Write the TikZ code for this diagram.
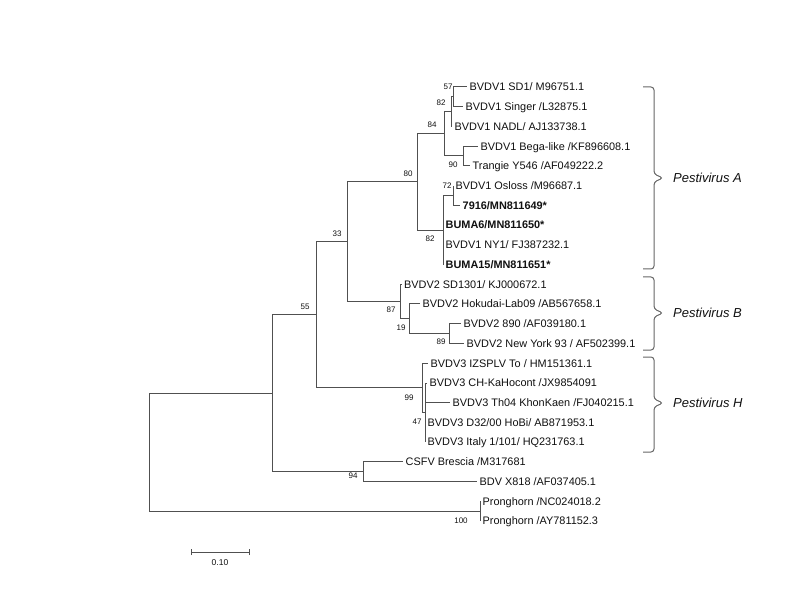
\documentclass[tikz,border=0pt]{standalone}
\usepackage{fontspec}
\setmainfont{Liberation Sans}
\definecolor{branchgray}{HTML}{505050}
\definecolor{textdark}{HTML}{111111}
\definecolor{bracegray}{HTML}{666666}
\begin{document}
\begin{tikzpicture}[x=1pt,y=-1pt,
  br/.style={draw=branchgray, line width=1pt},
  leaf/.style={anchor=west, inner xsep=2.5pt, inner ysep=0pt, font=\fontsize{10.9}{12}\selectfont, text height=7.7pt, text depth=0pt, text=textdark},
  bleaf/.style={leaf, font=\bfseries\fontsize{10.9}{12}\selectfont},
  bs/.style={inner sep=0pt, font=\fontsize{8}{9}\selectfont, text=textdark},
  cladebrace/.style={draw=bracegray, line width=1pt, rounded corners=3pt},
  cladelabel/.style={anchor=west, inner sep=0pt, font=\itshape\fontsize{13}{15}\selectfont, text=textdark}
]
\useasboundingbox (0,0) rectangle (793,596);
\fill[white] (0,0) rectangle (793,596);

% internal nodes
\coordinate (n57) at (453,96.9);
\coordinate (n82a) at (451,111.7);
\coordinate (n90) at (463,156.0);
\coordinate (n84) at (444,133.9);
\coordinate (n72) at (453,195.5);
\coordinate (n82b) at (443,230.1);
\coordinate (n80) at (417,182.0);
\coordinate (n89) at (449,333.6);
\coordinate (n19) at (409,318.8);
\coordinate (n87) at (400.7,301.6);
\coordinate (n33) at (347,241.8);
\coordinate (n47) at (425,412.6);
\coordinate (n99) at (422,387.9);
\coordinate (n55) at (316,314.8);
\coordinate (n94) at (363,471.7);
\coordinate (n2) at (272,393.3);
\coordinate (n100) at (480,511.2);
\coordinate (root) at (149,452.2);

% leaves
\node[leaf] (l0) at (467,87.0) {BVDV1 SD1/ M96751.1};
\node[leaf] (l1) at (463,106.7) {BVDV1 Singer /L32875.1};
\node[leaf] (l2) at (452,126.5) {BVDV1 NADL/ AJ133738.1};
\node[leaf] (l3) at (478,146.2) {BVDV1 Bega-like /KF896608.1};
\node[leaf] (l4) at (470,165.9) {Trangie Y546 /AF049222.2};
\node[leaf] (l5) at (453,185.7) {BVDV1 Osloss /M96687.1};
\node[bleaf] (l6) at (460,205.4) {7916/MN811649*};
\node[bleaf] (l7) at (443,225.1) {BUMA6/MN811650*};
\node[leaf] (l8) at (443,244.8) {BVDV1 NY1/ FJ387232.1};
\node[bleaf] (l9) at (443,264.6) {BUMA15/MN811651*};
\node[leaf] (l10) at (401.5,284.3) {BVDV2 SD1301/ KJ000672.1};
\node[leaf] (l11) at (420,304.0) {BVDV2 Hokudai-Lab09 /AB567658.1};
\node[leaf] (l12) at (461,323.8) {BVDV2 890 /AF039180.1};
\node[leaf] (l13) at (464,343.5) {BVDV2 New York 93 / AF502399.1};
\node[leaf] (l14) at (428,363.2) {BVDV3 IZSPLV To / HM151361.1};
\node[leaf] (l15) at (427,383.0) {BVDV3 CH-KaHocont /JX9854091};
\node[leaf] (l16) at (450,402.7) {BVDV3 Th04 KhonKaen /FJ040215.1};
\node[leaf] (l17) at (425,422.4) {BVDV3 D32/00 HoBi/ AB871953.1};
\node[leaf] (l18) at (425,442.1) {BVDV3 Italy 1/101/ HQ231763.1};
\node[leaf] (l19) at (403,461.9) {CSFV Brescia /M317681};
\node[leaf] (l20) at (477,481.6) {BDV X818 /AF037405.1};
\node[leaf] (l21) at (480,501.3) {Pronghorn /NC024018.2};
\node[leaf] (l22) at (480,521.1) {Pronghorn /AY781152.3};

% branches
\draw[br] (n57) |- (l0.west);
\draw[br] (n57) |- (l1.west);
\draw[br] (n82a) |- (n57);
\draw[br] (n82a) |- (l2.west);
\draw[br] (n90) |- (l3.west);
\draw[br] (n90) |- (l4.west);
\draw[br] (n84) |- (n82a);
\draw[br] (n84) |- (n90);
\draw[br] (n72) |- (l5.west);
\draw[br] (n72) |- (l6.west);
\draw[br] (n82b) |- (n72);
\draw[br] (n82b) |- (l7.west);
\draw[br] (n82b) |- (l8.west);
\draw[br] (n82b) |- (l9.west);
\draw[br] (n80) |- (n84);
\draw[br] (n80) |- (n82b);
\draw[br] (n89) |- (l12.west);
\draw[br] (n89) |- (l13.west);
\draw[br] (n19) |- (l11.west);
\draw[br] (n19) |- (n89);
\draw[br] (n87) |- (l10.west);
\draw[br] (n87) |- (n19);
\draw[br] (n33) |- (n80);
\draw[br] (n33) |- (n87);
\draw[br] (n47) |- (l15.west);
\draw[br] (n47) |- (l16.west);
\draw[br] (n47) |- (l17.west);
\draw[br] (n47) |- (l18.west);
\draw[br] (n99) |- (l14.west);
\draw[br] (n99) |- (n47);
\draw[br] (n55) |- (n33);
\draw[br] (n55) |- (n99);
\draw[br] (n94) |- (l19.west);
\draw[br] (n94) |- (l20.west);
\draw[br] (n2) |- (n55);
\draw[br] (n2) |- (n94);
\draw[br] (n100) |- (l21.west);
\draw[br] (n100) |- (l22.west);
\draw[br] (root) |- (n2);
\draw[br] (root) |- (n100);

% bootstrap values
\node[bs] (b57) at (448,87) {57};
\node[bs] (b82a) at (441,103) {82};
\node[bs] (b84) at (432,125) {84};
\node[bs] (b90) at (453,164.5) {90};
\node[bs] (b80) at (408,173.5) {80};
\node[bs] (b72) at (447,186) {72};
\node[bs] (b82b) at (430,238.5) {82};
\node[bs] (b33) at (337,233.5) {33};
\node[bs] (b55) at (305,306.5) {55};
\node[bs] (b87) at (391,309.5) {87};
\node[bs] (b19) at (401,327.5) {19};
\node[bs] (b89) at (441,341.5) {89};
\node[bs] (b99) at (409,397.5) {99};
\node[bs] (b47) at (417,422) {47};
\node[bs] (b94) at (353,476) {94};
\node[bs] (b100) at (461,521) {100};

% scale bar
\coordinate (sb1) at (191,552);
\coordinate (sb2) at (249,552);
\draw[br] (sb1) -- (sb2);
\draw[br] ([yshift=-3pt]sb1) -- ([yshift=3pt]sb1);
\draw[br] ([yshift=-3pt]sb2) -- ([yshift=3pt]sb2);
\node[inner sep=0pt, font=\fontsize{8.5}{9}\selectfont, text=textdark] (sblabel) at (220,562.5) {0.10};

% clade braces
\coordinate (ca1) at (643,87);  \coordinate (ca2) at (643,269); \coordinate (cat) at (663,178);
\coordinate (cb1) at (643,277); \coordinate (cb2) at (643,350); \coordinate (cbt) at (663,313);
\coordinate (ch1) at (643,357); \coordinate (ch2) at (643,452); \coordinate (cht) at (663,403);
\draw[cladebrace] (ca1) -- (654,87) -- (654,174) -- (cat) -- (654,182) -- (654,269) -- (ca2);
\draw[cladebrace] (cb1) -- (654,277) -- (654,309) -- (cbt) -- (654,317) -- (654,350) -- (cb2);
\draw[cladebrace] (ch1) -- (654,357) -- (654,399) -- (cht) -- (654,407) -- (654,452) -- (ch2);
\node[cladelabel] (pa) at (673,178) {Pestivirus A};
\node[cladelabel] (pb) at (673,313) {Pestivirus B};
\node[cladelabel] (ph) at (673,403) {Pestivirus H};
\end{tikzpicture}
\end{document}
